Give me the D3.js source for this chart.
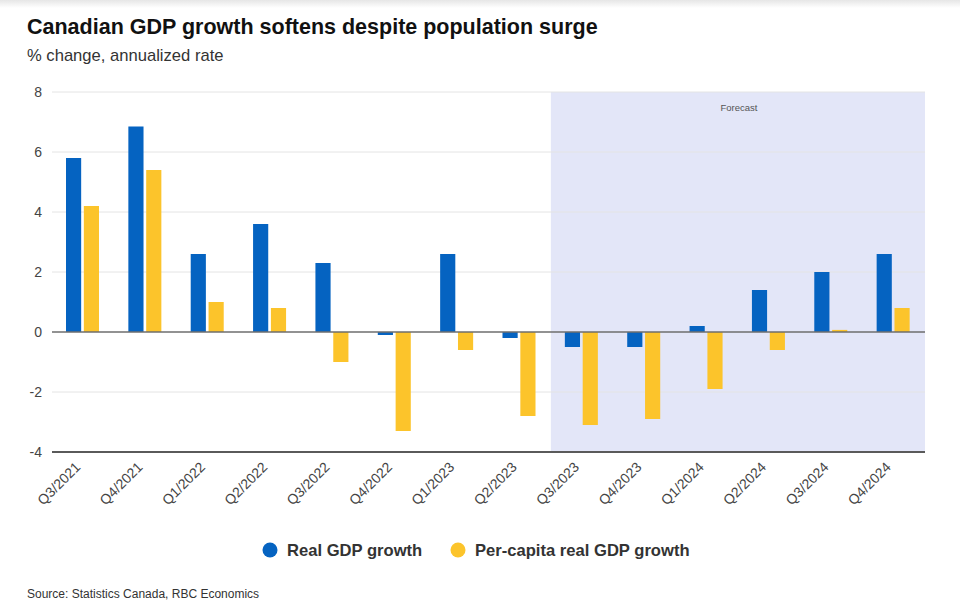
<!DOCTYPE html>
<html><head><meta charset="utf-8">
<script src="https://cdn.jsdelivr.net/npm/d3@7"></script>
<style>body{margin:0;background:#fff;}svg{display:block;font-family:"Liberation Sans",Arial,sans-serif;}</style>
</head><body><svg id="c" width="960" height="609"></svg>
<script>
const categories = ["Q3/2021","Q4/2021","Q1/2022","Q2/2022","Q3/2022","Q4/2022","Q1/2023","Q2/2023","Q3/2023","Q4/2023","Q1/2024","Q2/2024","Q3/2024","Q4/2024"];
const realGDP = [5.8, 6.85, 2.6, 3.6, 2.3, -0.1, 2.6, -0.2, -0.5, -0.5, 0.2, 1.4, 2.0, 2.6];
const perCapitaGDP = [4.2, 5.4, 1.0, 0.8, -1.0, -3.3, -0.6, -2.8, -3.1, -2.9, -1.9, -0.6, 0.07, 0.8];
const yTicks = [-4, -2, 0, 2, 4, 6, 8];
const seriesNames = ["Real GDP growth", "Per-capita real GDP growth"];
const forecastStart = "Q3/2023";

const colors = ["#0563c1", "#fcc42b"];
const svg = d3.select("#c");
const L = 52, R = 925, T = 92, B = 452;

// top shading
const g0 = svg.append("defs").append("linearGradient").attr("id","tg").attr("x1",0).attr("y1",0).attr("x2",0).attr("y2",1);
g0.append("stop").attr("offset",0).attr("stop-color","#e6e6e6");
g0.append("stop").attr("offset",1).attr("stop-color","#ffffff");
svg.append("rect").attr("x",0).attr("y",0).attr("width",960).attr("height",8).attr("fill","url(#tg)");

const x = d3.scaleBand().domain(categories).range([L, R]).paddingInner(0).paddingOuter(0);
const y = d3.scaleLinear().domain([-4, 8]).range([B, T]);
const xs = d3.scaleBand().domain([0,1]).range([14, 47]).paddingInner(0.15);

// forecast region
svg.append("rect").attr("x", x(forecastStart)).attr("y", y(8))
  .attr("width", R - x(forecastStart)).attr("height", y(-4) - y(8)).attr("fill", "#e3e6f8");
svg.append("text").attr("x", x(forecastStart) + (R - x(forecastStart))/2 + 1).attr("y", y(8) + 19)
  .attr("text-anchor","middle").attr("font-size", 9.5).attr("fill","#555").text("Forecast");

// gridlines
svg.append("g").selectAll("line").data(yTicks.filter(d => d !== 0 && d !== -4)).join("line")
  .attr("x1", L).attr("x2", R).attr("y1", d => y(d)).attr("y2", d => y(d))
  .attr("stroke", "#e4e4e4").attr("stroke-width", 1);

// bars
const series = [realGDP, perCapitaGDP];
series.forEach((vals, si) => {
  svg.append("g").selectAll("rect").data(vals).join("rect")
    .attr("x", (d, i) => x(categories[i]) + xs(si))
    .attr("width", xs.bandwidth())
    .attr("y", d => y(Math.max(0, d)))
    .attr("height", d => Math.abs(y(d) - y(0)))
    .attr("fill", colors[si]);
});

// zero line and bottom axis line
svg.append("line").attr("x1", L).attr("x2", R).attr("y1", y(0)).attr("y2", y(0)).attr("stroke", "#6e6e6e").attr("stroke-width", 1.3);
svg.append("line").attr("x1", L).attr("x2", R).attr("y1", y(-4)).attr("y2", y(-4)).attr("stroke", "#5a5a5a").attr("stroke-width", 1.8);

// y axis
const yAxis = d3.axisLeft(y).tickValues(yTicks).tickSize(0).tickPadding(10).tickFormat(d => String(d));
const ya = svg.append("g").attr("transform", `translate(${L},0)`).call(yAxis);
ya.select(".domain").remove();
ya.selectAll("text").attr("font-size", 14).attr("fill", "#444").attr("font-family","Liberation Sans, Arial, sans-serif");

// x axis
const xAxis = d3.axisBottom(x).tickSize(0).tickPadding(0);
const xa = svg.append("g").attr("transform", `translate(0,${B})`).call(xAxis);
xa.select(".domain").remove();
xa.selectAll("text").attr("font-size", 14).attr("fill", "#444").attr("font-family","Liberation Sans, Arial, sans-serif")
  .attr("text-anchor", "end").attr("dy", 0)
  .attr("transform", "translate(-2,16) rotate(-45)");

// title
svg.append("text").attr("x", 27).attr("y", 34).attr("font-size", 21.5).attr("font-weight", "bold").attr("fill", "#111")
  .text("Canadian GDP growth softens despite population surge");
svg.append("text").attr("x", 27).attr("y", 61).attr("font-size", 16.6).attr("fill", "#333")
  .text("% change, annualized rate");

// legend
const legendX = [270, 458];
seriesNames.forEach((n, i) => {
  svg.append("circle").attr("cx", legendX[i]).attr("cy", 550).attr("r", 7.5).attr("fill", colors[i]);
  svg.append("text").attr("x", legendX[i] + 17).attr("y", 556).attr("font-size", 16.6).attr("font-weight", "bold").attr("fill", "#333").text(n);
});

// source
svg.append("text").attr("x", 27).attr("y", 598).attr("font-size", 12).attr("fill", "#333")
  .text("Source: Statistics Canada, RBC Economics");
</script></body></html>
